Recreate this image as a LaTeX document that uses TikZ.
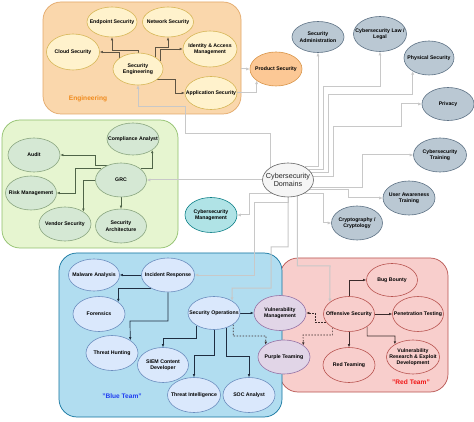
\documentclass[tikz,border=0pt]{standalone}
\usepackage{fontspec}
\setmainfont{Liberation Sans}
\usetikzlibrary{shapes.geometric,arrows.meta}
\pgfdeclarelayer{bg}
\pgfdeclarelayer{edges}
\pgfsetlayers{bg,edges,main}
\definecolor{engfill}{HTML}{FAD7AC}
\definecolor{engdraw}{HTML}{E3A869}
\definecolor{yfill}{HTML}{FFF2CC}
\definecolor{ydraw}{HTML}{D6B656}
\definecolor{psfill}{HTML}{FCC895}
\definecolor{psdraw}{HTML}{D9954A}
\definecolor{gbfill}{HTML}{BAC8D3}
\definecolor{gbdraw}{HTML}{5F7386}
\definecolor{domfill}{HTML}{F5F5F5}
\definecolor{domdraw}{HTML}{666666}
\definecolor{cmfill}{HTML}{B0E3E6}
\definecolor{cmdraw}{HTML}{0E8088}
\definecolor{grcfill}{HTML}{E6F5D0}
\definecolor{grcdraw}{HTML}{8FBF6A}
\definecolor{gnfill}{HTML}{D5E8D4}
\definecolor{gndraw}{HTML}{8AA680}
\definecolor{bcfill}{HTML}{B1DDF0}
\definecolor{bcdraw}{HTML}{10739E}
\definecolor{bnfill}{HTML}{DAE8FC}
\definecolor{bndraw}{HTML}{6C8EBF}
\definecolor{rcfill}{HTML}{F8CECC}
\definecolor{rcdraw}{HTML}{B85450}
\definecolor{pufill}{HTML}{E1D5E7}
\definecolor{pudraw}{HTML}{9673A6}
\definecolor{grayln}{HTML}{C8C8C8}
\definecolor{engln}{HTML}{5E5443}
\definecolor{grcln}{HTML}{4F6448}
\definecolor{blueln}{HTML}{1E2D40}
\definecolor{redln}{HTML}{3A2A2A}
\definecolor{engtxt}{HTML}{F08A1C}
\definecolor{bluetxt}{HTML}{1F3DF0}
\definecolor{redtxt}{HTML}{F01515}
\begin{document}
\begin{tikzpicture}[x=1pt,y=-1pt,
  el/.style={ellipse, draw, line width=0.6pt, inner sep=0pt, minimum width=52pt, minimum height=34pt},
  tx/.style={font=\fontsize{5.2}{6.3}\selectfont\bfseries, align=center, text=black, inner sep=0pt},
  dtx/.style={font=\fontsize{7.2}{8.6}\selectfont, align=center, text=black!85, inner sep=0pt},
  yel/.style={el, fill=yfill, draw=ydraw},
  gbl/.style={el, fill=gbfill, draw=gbdraw},
  gnl/.style={el, fill=gnfill, draw=gndraw},
  bnl/.style={el, fill=bnfill, draw=bndraw},
  rnl/.style={el, fill=rcfill, draw=rcdraw},
  pnl/.style={el, fill=pufill, draw=pudraw},
  cont/.style={rectangle, rounded corners=18pt, line width=0.7pt, inner sep=0pt},
  gl/.style={draw=grayln, line width=1pt, -{Latex[length=3.5pt,width=3.2pt]}},
  dl/.style={line width=0.7pt, -{Latex[length=3pt,width=2.6pt]}},
  el_eng/.style={dl, draw=engln},
  el_grc/.style={dl, draw=grcln},
  el_blue/.style={dl, draw=blueln},
  el_red/.style={dl, draw=redln},
  dsh/.style={dl, draw=redln, dashed, dash pattern=on 1.5pt off 1.5pt},
  grpl/.style={font=\fontsize{6.6}{8}\selectfont\bfseries, inner sep=0pt}
]
\useasboundingbox (0,0) rectangle (474,422);
\begin{pgfonlayer}{bg}
\fill[white] (0,0) rectangle (474,422);
\node[cont, fill=engfill, draw=engdraw, minimum width=198pt, minimum height=112pt] (eng) at (142,58) {};
\node[cont, fill=grcfill, draw=grcdraw, minimum width=176pt, minimum height=128pt] (grcbox) at (90,184) {};
\node[cont, fill=rcfill, draw=rcdraw, minimum width=168pt, minimum height=134pt] (redbox) at (364,325) {};
\node[cont, fill=bcfill, draw=bcdraw, minimum width=223pt, minimum height=164pt] (bluebox) at (170.5,335) {};
\end{pgfonlayer}

% group labels
\node[grpl, text=engtxt] (englbl) at (88,99) {Engineering};
\node[grpl, text=bluetxt] (bluelbl) at (122,396) {"Blue Team"};
\node[grpl, text=redtxt] (redlbl) at (411,382) {"Red Team"};

% Engineering
\node[yel, minimum width=50pt, minimum height=30pt, label={[tx]center:{Endpoint Security}}] (es) at (112,22) {};
\node[yel, minimum width=51pt, minimum height=30pt, label={[tx]center:{Network Security}}] (ns) at (168,22) {};
\node[yel, minimum width=53pt, minimum height=36pt, label={[tx]center:{Cloud Security}}] (cs) at (73,52) {};
\node[yel, minimum width=54pt, minimum height=36pt, label={[tx]center:{Identity \& Access\\Management}}] (iam) at (210,49) {};
\node[yel, minimum width=50pt, minimum height=32pt, label={[tx]center:{Security\\Engineering}}] (se) at (138,69) {};
\node[yel, minimum width=52pt, minimum height=33pt, label={[tx]center:{Application Security}}] (app) at (211,93) {};
\node[el, fill=psfill, draw=psdraw, minimum width=52pt, minimum height=34pt, label={[tx]center:{Product Security}}] (ps) at (276,69) {};

% right side domains
\node[gbl, minimum width=52pt, minimum height=31pt, label={[tx]center:{Security\\Administration}}] (sa) at (318,37) {};
\node[gbl, minimum width=53pt, minimum height=35pt, label={[tx]center:{Cybersecurity Law /\\Legal}}] (law) at (380,34) {};
\node[gbl, minimum width=50pt, minimum height=34pt, label={[tx]center:{Physical Security}}] (phys) at (429,58) {};
\node[gbl, minimum width=52pt, minimum height=33pt, label={[tx]center:{Privacy}}] (priv) at (448,104) {};
\node[gbl, minimum width=53pt, minimum height=34pt, label={[tx]center:{Cybersecurity\\Training}}] (ct) at (440,155) {};
\node[gbl, minimum width=52pt, minimum height=34pt, label={[tx]center:{User Awareness\\Training}}] (ua) at (409,198) {};
\node[gbl, minimum width=51pt, minimum height=34pt, label={[tx]center:{Cryptography /\\Cryptology}}] (cry) at (357,223) {};
\node[el, fill=domfill, draw=domdraw, minimum width=51pt, minimum height=34pt, label={[dtx]center:{Cybersecurity\\Domains}}] (dom) at (288,180) {};
\node[el, fill=cmfill, draw=cmdraw, minimum width=52pt, minimum height=35pt, label={[tx]center:{Cybersecurity\\Management}}] (cm) at (211,215) {};

% GRC
\node[gnl, minimum width=52pt, minimum height=32pt, label={[tx]center:{Compliance Analyst}}] (comp) at (133,139) {};
\node[gnl, label={[tx]center:{Audit}}] (aud) at (34,155) {};
\node[gnl, minimum width=51pt, label={[tx]center:{GRC}}] (grc) at (121,180) {};
\node[gnl, minimum width=51pt, label={[tx]center:{Risk Management}}] (risk) at (31,193) {};
\node[gnl, label={[tx]center:{Vendor Security}}] (ven) at (65,224) {};
\node[gnl, minimum width=51pt, label={[tx]center:{Security\\Architecture}}] (sarc) at (121,226) {};

% Blue team
\node[bnl, minimum width=51pt, minimum height=32pt, label={[tx]center:{Malware Analysis}}] (mal) at (94,275) {};
\node[bnl, minimum width=53pt, label={[tx]center:{Incident Response}}] (ir) at (168,275) {};
\node[bnl, minimum height=35pt, label={[tx]center:{Forensics}}] (fo) at (99,314) {};
\node[bnl, minimum height=35pt, label={[tx]center:{Threat Hunting}}] (th) at (112,353) {};
\node[bnl, minimum height=33pt, label={[tx]center:{Security Operations}}] (so) at (214,313) {};
\node[bnl, minimum width=51pt, minimum height=35pt, label={[tx]center:{SIEM Content\\Developer}}] (siem) at (163,365) {};
\node[bnl, minimum width=53pt, minimum height=35pt, label={[tx]center:{Threat Intelligence}}] (ti) at (194,395) {};
\node[bnl, minimum height=35pt, label={[tx]center:{SOC Analyst}}] (soc) at (249,395) {};

% Red team
\node[rnl, minimum width=51pt, minimum height=33pt, label={[tx]center:{Bug Bounty}}] (bb) at (392,280) {};
\node[rnl, minimum width=51pt, minimum height=35pt, label={[tx]center:{Offensive Security}}] (os) at (349,314) {};
\node[rnl, minimum width=51pt, minimum height=35pt, label={[tx]center:{Penetration Testing}}] (pen) at (418,314) {};
\node[rnl, minimum height=35pt, label={[tx]center:{Red Teaming}}] (rt) at (349,365) {};
\node[rnl, minimum width=53pt, label={[tx]center:{Vulnerability\\Research \& Exploit\\Development}}] (vr) at (413,357) {};
\node[pnl, minimum height=35pt, label={[tx]center:{Vulnerability\\Management}}] (vm) at (280,313) {};
\node[pnl, label={[tx]center:{Purple Teaming}}] (pt) at (284,357) {};

\begin{pgfonlayer}{edges}
% gray domain connectors
\draw[gl] (dom.143) |- (185,134) |- (138,107) -- (se.south);
\draw[gl] (eng.east |- ps.west) -- (ps.west);
\draw[gl] (app.east) -| (ps.211);
\draw[gl] (dom.38) -| (sa.south);
\draw[gl] (dom.26) -| (323,87) -| (law.south);
\draw[gl] (dom.17) -| (328,95) -| (phys.219);
\draw[gl] (dom.9) -| (333,127) -| (401,104) -- (priv.west);
\draw[gl] (dom.-17) -| (362,155) -- (ct.west);
\draw[gl] (dom.-25) -| (348,198) -- (ua.west);
\draw[gl] (dom.-40) -| (323,223) -- (cry.west);
\draw[gl] (dom.west) -- (grc.east);
\draw[gl] (dom.220) -| (249,215) -- (cm.east);
\draw[gl] (dom.south) -- ++(0,5) -| (254,275) -- (ir.east);
\draw[gl] (dom.south) |- (271,247) |- (232,288) -- (so.34);
\draw[gl] (dom.-60) |- (330,266) -- (os.148);
% engineering
\draw[el_eng] (se.north) -- ++(0,-2) -| (es.south);
\draw[el_eng] (se.148) |- (cs.east);
\draw[el_eng] (se.35) -- ++(0,-10) -| (ns.south);
\draw[el_eng] (se.20) |- (iam.west);
\draw[el_eng] (se.-29) -- ++(18,0) |- (app.west);
% grc
\draw[el_grc] (grc.30) -| (comp.-30);
\draw[el_grc] (grc.130) -| (95,155) -- (aud.east);
\draw[el_grc] (grc.150) -| (75,193) -- (risk.east);
\draw[el_grc] (grc.west) -| (ven.34);
\draw[el_grc] (grc.south) -- (sarc.north);
% blue team
\draw[el_blue] (ir.west) -- (mal.east);
\draw[el_blue] (ir.217) -| (fo.32);
\draw[el_blue] (ir.south) |- (130,321) -- (th.35);
\draw[el_blue] (so.east) -- (vm.west);
\draw[el_blue] (so.216) |- (163,338) -- (siem.north);
\draw[el_blue] (so.south) |- (194,355) -- (ti.north);
\draw[el_blue] (so.-51) |- (249,356) -- (soc.north);
\draw[dsh] (so.-31) |- (266,336) -- (pt.146);
% red team
\draw[el_red] (os.north) |- (bb.west);
\draw[el_red] (os.east) -- (pen.west);
\draw[el_red] (os.south) -- (rt.north);
\draw[el_red] (os.-35) |- (395,336) -- (vr.145);
\draw[dsh] (os.199) -| (315,313) -- (vm.east);
\draw[dsh] (os.220) |- (303,335) -- (pt.31);
\end{pgfonlayer}
\end{tikzpicture}
\end{document}
